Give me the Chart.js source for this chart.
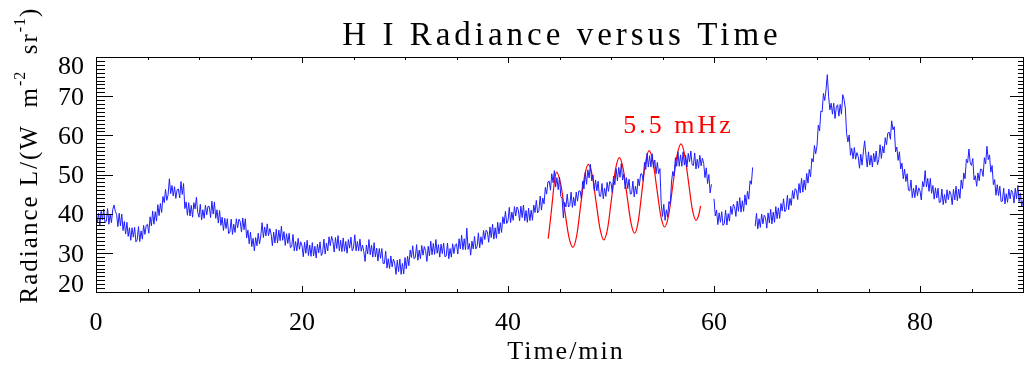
<!DOCTYPE html>
<html>
<head>
<meta charset="utf-8">
<script src="https://cdn.jsdelivr.net/npm/chart.js@4.4.0/dist/chart.umd.min.js"></script>
<style>
  html, body { margin: 0; padding: 0; background: #fff; }
</style>
</head>
<body>
<canvas id="chart" width="1027" height="365"></canvas>
<script>
const titleText = 'H I Radiance versus Time';
const xTitle = 'Time/min';
const fitLabel = '5.5 mHz';

const xTicks = [0, 20, 40, 60, 80];
const yTicks = [20, 30, 40, 50, 60, 70, 80];

// H I radiance, one sample every 0.125 min from t = 0, one row per minute (null = gap)
const sampleStep = 0.125;
const radiance = [
  41.0, 37.6, 40.1, 37.1, 40.6, 38.4, 41.2, 37.7,   // 0
  38.0, 41.3, 37.3, 39.9, 37.7, 41.1, 42.2, 40.6,
  39.8, 36.7, 40.1, 36.9, 39.9, 35.7, 38.0, 34.8,
  37.8, 34.2, 36.4, 33.2, 36.4, 34.0, 36.5, 32.8,
  33.3, 36.7, 32.9, 35.6, 33.5, 37.0, 34.7, 37.0,
  37.3, 35.0, 39.2, 36.9, 40.7, 37.3, 40.5, 38.1,
  42.3, 39.5, 42.6, 40.3, 44.4, 42.8, 46.2, 43.4,
  44.8, 48.9, 45.1, 47.2, 44.5, 46.9, 43.9, 46.1,
  46.3, 44.0, 48.2, 44.9, 47.7, 41.3, 43.0, 39.6,
  42.8, 39.4, 42.1, 39.1, 42.8, 41.2, 44.2, 40.3,
  39.1, 42.4, 38.4, 41.0, 38.8, 42.2, 39.7, 41.9,   // 10
  41.8, 39.0, 43.2, 39.9, 43.0, 38.8, 41.0, 37.6,
  40.8, 37.0, 39.1, 35.7, 38.8, 36.2, 38.7, 34.9,
  35.3, 38.6, 34.7, 37.3, 35.2, 38.7, 36.4, 38.6,
  38.0, 35.3, 38.9, 35.9, 38.7, 33.8, 35.8, 32.3,
  35.3, 31.6, 33.7, 30.5, 33.9, 31.8, 35.0, 32.3,
  34.3, 37.7, 33.9, 36.6, 34.3, 37.4, 34.4, 36.2,
  34.8, 31.8, 35.3, 32.5, 36.0, 32.5, 35.8, 33.1,
  36.8, 33.2, 35.4, 31.9, 34.9, 32.4, 35.0, 31.3,
  31.6, 34.7, 30.5, 32.9, 30.5, 33.7, 30.9, 32.8,
  31.8, 29.0, 32.7, 29.9, 33.2, 29.3, 32.0, 29.1,   // 20
  32.6, 29.2, 31.7, 28.7, 32.2, 30.0, 32.8, 29.3,
  30.0, 33.5, 29.7, 32.5, 30.5, 34.1, 31.8, 34.2,
  33.0, 30.2, 33.9, 31.1, 34.4, 30.5, 33.2, 30.3,
  33.8, 30.4, 32.9, 29.9, 33.4, 31.2, 34.0, 30.5,
  31.2, 34.6, 30.5, 32.9, 30.5, 33.5, 30.4, 32.0,
  30.3, 27.8, 32.0, 29.7, 33.4, 29.5, 32.0, 28.9,
  32.6, 29.0, 31.2, 27.9, 31.1, 28.6, 31.1, 27.3,
  27.3, 30.4, 26.1, 28.5, 26.0, 29.2, 26.4, 28.4,
  27.4, 24.5, 28.1, 25.2, 28.4, 24.5, 27.3, 24.6,
  28.8, 25.9, 29.1, 26.7, 30.7, 28.8, 31.8, 28.5,   // 30
  28.8, 32.1, 28.1, 30.7, 28.5, 31.9, 29.4, 31.6,
  30.6, 27.8, 31.7, 29.2, 33.0, 29.5, 32.4, 29.6,
  33.4, 29.9, 32.1, 28.9, 32.2, 29.8, 32.5, 29.0,
  29.2, 32.5, 28.5, 31.1, 28.9, 32.3, 29.8, 32.0,
  32.3, 29.7, 33.6, 31.0, 34.5, 30.8, 33.6, 30.8,
  36.3, 30.9, 32.4, 29.4, 33.0, 31.0, 34.2, 31.0,
  31.6, 35.1, 31.3, 34.1, 32.1, 35.7, 33.4, 35.8,
  35.3, 32.7, 36.6, 33.9, 37.3, 33.5, 36.4, 33.7,
  37.8, 34.8, 37.7, 35.2, 39.2, 37.4, 40.6, 37.5,
  38.2, 41.6, 37.7, 40.4, 38.3, 41.8, 39.4, 41.7,   // 40
  41.0, 38.2, 41.9, 39.0, 42.2, 38.2, 40.8, 37.8,
  41.4, 38.2, 40.9, 38.3, 42.2, 40.3, 43.4, 40.2,
  40.8, 44.5, 40.9, 44.0, 42.5, 46.7, 45.0, 48.1,
  48.3, 46.0, 50.2, 47.9, 51.0, 46.8, 49.2, 46.1,
  49.3, 44.4, 43.9, 38.9, 42.9, 41.7, 45.0, 41.7,
  42.1, 45.5, 41.6, 44.2, 42.0, 45.5, 43.2, 45.8,
  45.8, 43.8, 48.3, 46.3, 50.5, 47.5, 51.2, 49.1,
  52.6, 48.4, 49.9, 45.9, 48.6, 45.8, 48.3, 44.5,
  44.4, 47.7, 43.8, 46.5, 44.4, 48.0, 45.7, 48.2,
  47.8, 45.4, 49.6, 47.4, 51.5, 48.4, 51.8, 49.3,   // 50
  52.8, 48.6, 50.1, 46.3, 49.2, 46.4, 48.8, 45.0,
  45.1, 48.3, 44.3, 47.0, 45.0, 48.9, 47.1, 50.1,
  50.2, 48.4, 53.1, 51.3, 55.4, 51.9, 54.8, 51.9,
  55.3, 51.6, 53.7, 50.2, 53.1, 50.2, 51.5, 42.5,
  39.3, 42.4, 38.3, 41.0, 39.1, 43.1, 42.4, 48.1,
  50.8, 49.6, 54.3, 52.1, 55.8, 52.1, 55.0, 52.1,
  55.8, 52.4, 54.9, 51.9, 55.4, 53.2, 56.0, 52.5,
  52.3, 55.5, 51.4, 53.9, 51.6, 54.9, 52.2, 54.2,
  52.8, 49.2, 51.7, 47.7, 50.0, 45.3, 47.5, null,
  43.8, 39.4, 40.9, 37.2, 40.2, 37.8, 40.5, 37.0,   // 60
  37.4, 40.9, 37.1, 40.0, 38.1, 41.9, 39.8, 42.4,
  41.8, 39.3, 43.2, 40.6, 44.1, 40.4, 43.3, 40.6,
  44.8, 42.2, 45.7, 43.7, 48.4, 47.5, 51.8, null,
  36.8, 40.1, 36.1, 38.7, 36.5, 39.9, 37.4, 39.6,
  39.0, 36.3, 40.2, 37.6, 41.1, 37.4, 40.4, 37.8,
  41.8, 38.7, 41.5, 38.8, 42.6, 40.7, 43.8, 40.5,
  41.1, 44.7, 41.0, 43.9, 42.1, 45.9, 43.8, 46.4,
  46.0, 43.6, 47.7, 45.3, 49.0, 45.5, 48.6, 46.1,
  50.3, 47.8, 51.3, 49.4, 54.1, 53.2, 57.4, 55.3,
  57.3, 62.6, 61.1, 66.2, 66.0, 70.7, 68.9, 71.6,   // 70
  75.5, 70.0, 66.5, 68.2, 65.4, 68.2, 64.3, 67.2,
  67.8, 64.9, 67.9, 65.4, 70.4, 69.2, 67.0, 60.5,
  58.3, 60.1, 54.9, 56.7, 54.0, 56.9, 53.9, 55.6,
  54.6, 51.6, 55.2, 52.4, 55.8, 58.6, 55.0, 51.9,
  55.8, 52.4, 54.9, 51.9, 55.4, 53.2, 56.0, 52.5,
  53.8, 57.6, 54.1, 57.2, 55.5, 59.4, 57.6, 60.6,
  60.8, 59.0, 63.7, 61.4, 62.2, 55.8, 57.0, 53.6,
  55.8, 51.4, 52.9, 48.9, 51.4, 48.2, 50.2, 46.0,
  45.8, 48.6, 44.1, 46.5, 44.1, 47.3, 44.6, 46.6,
  45.8, 43.5, 48.2, 46.9, 51.0, 46.8, 49.0, 45.7,   // 80
  49.0, 45.2, 47.2, 43.7, 46.6, 44.0, 46.5, 42.8,
  43.0, 46.3, 42.3, 44.9, 42.7, 46.1, 43.6, 45.8,
  45.0, 42.3, 46.2, 43.5, 47.0, 43.3, 46.3, 43.9,
  48.6, 46.4, 50.4, 48.9, 53.9, 53.0, 56.5, 53.0,
  52.3, 54.1, 48.6, 49.7, 47.0, 50.4, 48.4, 51.4,
  51.3, 49.5, 54.3, 52.7, 57.2, 53.8, 55.0, 50.6,
  52.3, 47.4, 48.7, 44.7, 47.4, 44.6, 47.0, 43.1,
  43.2, 46.5, 42.5, 45.1, 42.9, 46.3, 43.8, 46.0,
  45.4, 42.7, 46.5, 43.8, 47.2, 43.1, 45.2, 41.7,
  43.4                                               // 90
];

// red 5.5 mHz fit
const fitTime = [43.9, 44.1, 44.3, 44.5, 44.7, 45.1, 45.5, 45.9, 46.3, 46.68, 47.05, 47.43, 47.8,
  48.18, 48.55, 48.93, 49.3, 49.68, 50.05, 50.43, 50.8, 51.18, 51.55, 51.93, 52.3, 52.65, 53.0,
  53.35, 53.7, 54.08, 54.45, 54.83, 55.2, 55.6, 56.0, 56.4, 56.8, 57.16, 57.53, 57.89, 58.25, 58.5, 58.7];
const fitValue = [33.6, 38.0, 43.0, 48.0, 50.6, 47.8, 41.0, 34.2, 31.4, 34.5, 42.0, 49.5, 52.6,
  49.8, 43.0, 36.2, 33.3, 36.4, 43.8, 51.2, 54.3, 51.5, 44.7, 37.8, 35.0, 38.1, 45.6,
  53.0, 56.1, 53.2, 46.4, 39.5, 36.6, 39.7, 47.2, 54.7, 57.8, 54.9, 48.0, 41.2, 38.3, 39.5, 42.0];
const fitLabelAt = [51.2, 62.3];

const serif = '"Liberation Serif", "DejaVu Serif", serif';

function setSpacing(ctx, px) {
    if ('letterSpacing' in ctx) ctx.letterSpacing = px + 'px';
}

// IDL style frame, inward ticks and all labels
const frameAndText = {
    id: 'frameAndText',
    afterDatasetsDraw(chart) {
        const ctx = chart.ctx;
        const a = chart.chartArea;
        const xs = chart.scales.x, ys = chart.scales.y;
        ctx.save();
        ctx.strokeStyle = '#000';
        ctx.lineWidth = 1;
        ctx.strokeRect(Math.round(a.left) + 0.5, Math.round(a.top) + 0.5,
            Math.round(a.right - a.left), Math.round(a.bottom - a.top));

        ctx.beginPath();
        for (let v = 0; v <= 90; v += 5) {
            const px = Math.round(xs.getPixelForValue(v)) + 0.5;
            const len = v % 20 === 0 ? 6 : 3;
            ctx.moveTo(px, a.bottom); ctx.lineTo(px, a.bottom - len);
            ctx.moveTo(px, a.top); ctx.lineTo(px, a.top + len);
        }
        for (let v = 20; v <= 80; v += 1) {
            const py = Math.round(ys.getPixelForValue(v)) + 0.5;
            const major = v % 10 === 0;
            ctx.moveTo(a.left, py); ctx.lineTo(a.left + (major ? 17 : 9), py);
            ctx.moveTo(a.right, py); ctx.lineTo(a.right - (major ? 13 : 5), py);
        }
        ctx.stroke();

        ctx.fillStyle = '#000';
        ctx.font = '26px ' + serif;
        setSpacing(ctx, 0);
        ctx.textBaseline = 'middle';
        ctx.textAlign = 'center';
        xTicks.forEach(v => ctx.fillText(String(v), xs.getPixelForValue(v), 323));
        ctx.textAlign = 'right';
        yTicks.forEach(v => {
            let py = ys.getPixelForValue(v) + 2;
            if (v === yTicks[yTicks.length - 1]) py += 8;
            if (v === yTicks[0]) py -= 9;
            ctx.fillText(String(v), 84, py);
        });

        // title
        ctx.textAlign = 'center';
        ctx.font = '33px ' + serif;
        setSpacing(ctx, 4);
        ctx.fillText(titleText, 562, 36);

        // x title
        ctx.font = '26px ' + serif;
        setSpacing(ctx, 2);
        ctx.fillText(xTitle, 566, 352);

        // fit label
        ctx.fillStyle = '#ff0000';
        ctx.textAlign = 'left';
        ctx.font = '26px ' + serif;
        setSpacing(ctx, 3);
        ctx.fillText(fitLabel, xs.getPixelForValue(fitLabelAt[0]), ys.getPixelForValue(fitLabelAt[1]));

        // y title, rotated, with superscripts
        ctx.fillStyle = '#000';
        ctx.translate(30, 155);
        ctx.rotate(-Math.PI / 2);
        const parts = [
            ['Radiance L/(W  m', false], ['-2', true], ['  sr', false], ['-1', true], [')', false]
        ];
        const fontFor = sup => (sup ? '16px ' : '25px ') + serif;
        let total = 0;
        parts.forEach(([t, sup]) => {
            ctx.font = fontFor(sup);
            setSpacing(ctx, sup ? 1 : 2);
            total += ctx.measureText(t).width;
        });
        let x = -total / 2;
        ctx.textAlign = 'left';
        parts.forEach(([t, sup]) => {
            ctx.font = fontFor(sup);
            setSpacing(ctx, sup ? 1 : 2);
            ctx.fillText(t, x, sup ? -9 : 0);
            x += ctx.measureText(t).width;
        });
        ctx.restore();
    }
};

const blueData = radiance.map((v, i) => ({ x: i * sampleStep, y: v }));
const redData = fitTime.map((t, i) => ({ x: t, y: fitValue[i] }));

new Chart(document.getElementById('chart'), {
    type: 'line',
    data: {
        datasets: [
            {
                label: 'H I radiance',
                data: blueData,
                borderColor: 'rgb(30, 30, 255)',
                borderWidth: 1,
                pointRadius: 0,
                tension: 0,
                spanGaps: false
            },
            {
                label: '5.5 mHz fit',
                data: redData,
                borderColor: '#ff0000',
                borderWidth: 1.2,
                pointRadius: 0,
                cubicInterpolationMode: 'monotone'
            }
        ]
    },
    options: {
        responsive: false,
        animation: false,
        layout: { padding: { left: 96, right: 4, top: 57, bottom: 73 } },
        scales: {
            x: { type: 'linear', min: 0, max: 90, display: false },
            y: { type: 'linear', min: 20, max: 80, display: false }
        },
        plugins: {
            legend: { display: false },
            tooltip: { enabled: false }
        }
    },
    plugins: [frameAndText]
});
</script>
</body>
</html>
